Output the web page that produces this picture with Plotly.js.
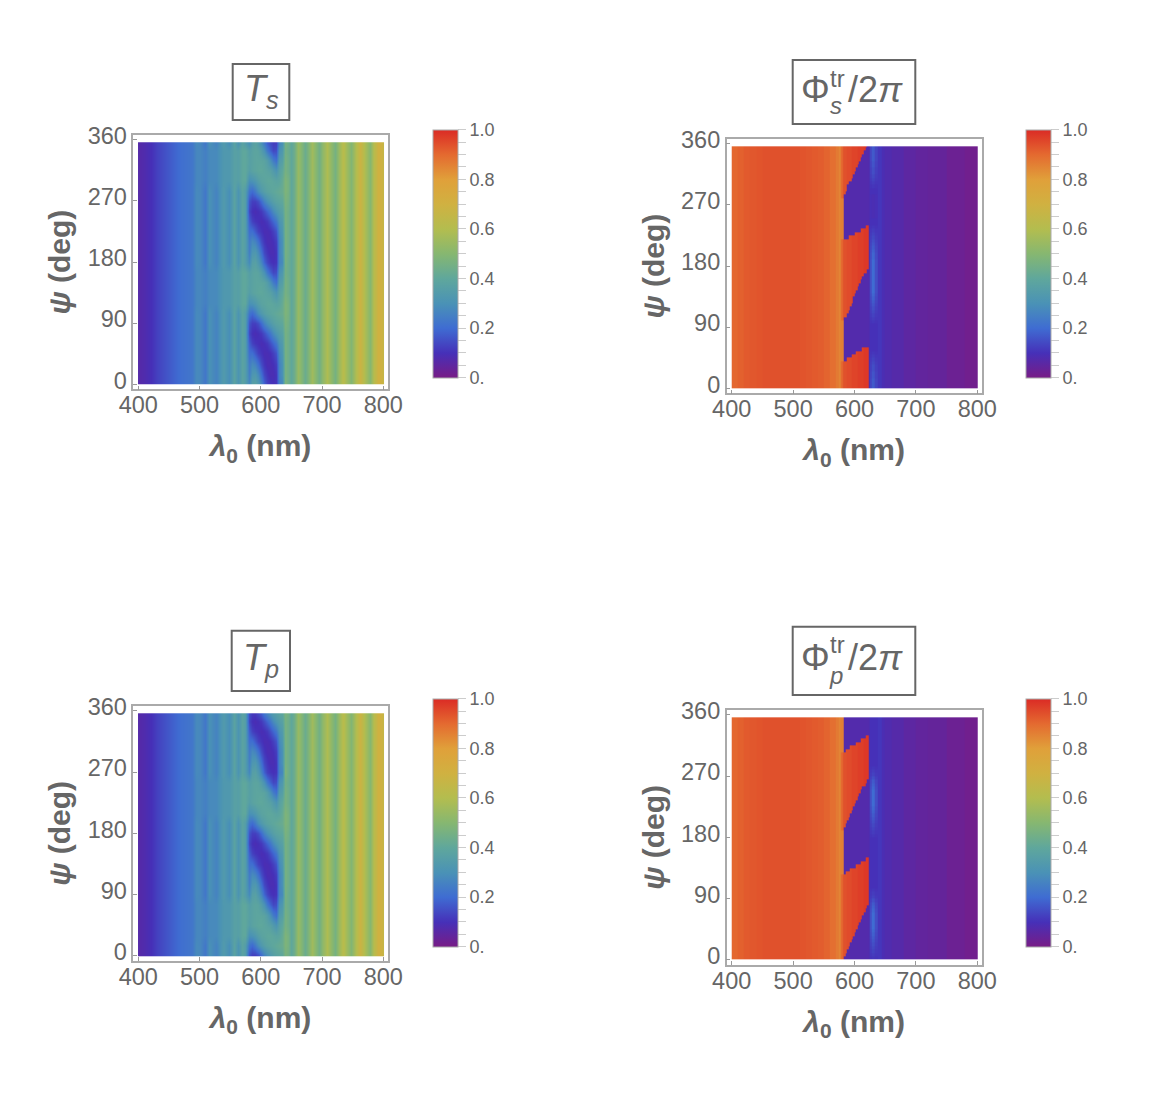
<!DOCTYPE html>
<html lang="en">
<head>
    <meta charset="UTF-8">
    <title>Transmission maps</title>
    <script src="https://cdn.plot.ly/plotly-3.0.1.min.js"></script>
    <style>
        body { margin: 0; background: white; }
    </style>
</head>

<body>
<div id="plot"></div>

<script>

    const rainbow = [
        [0, '#781c86'], [0.1, '#4630b8'], [0.2, '#3f6cd2'], [0.3, '#4a92b6'], [0.4, '#5fa79c'],
        [0.5, '#86b771'], [0.6, '#b3bd4f'], [0.7, '#d0b141'], [0.8, '#e0a03a'], [0.9, '#e46a30'], [1, '#db2b25']
    ]

    const xTicks = [400, 500, 600, 700, 800]
    const yTicks = [0, 90, 180, 270, 360]
    const barTicks = [0, 0.05, 0.1, 0.15, 0.2, 0.25, 0.3, 0.35, 0.4, 0.45, 0.5, 0.55, 0.6, 0.65, 0.7, 0.75, 0.8, 0.85, 0.9, 0.95, 1]
    const barLabels = ['0.', '', '', '', '0.2', '', '', '', '0.4', '', '', '', '0.6', '', '', '', '0.8', '', '', '', '1.0']

    // transmission panels: wavelength columns
    // 401 and 799 repeat the end values, smoothing would otherwise run half a cell past 400 and 800
    const leftLambda = [400, 401, 410, 420, 430, 440, 450, 460, 470, 480, 488, 494, 500, 509, 516, 527, 538, 548, 556, 563, 570, 575]
    const leftSharp = [0.07, 0.07, 0.08, 0.10, 0.13, 0.15, 0.17, 0.19, 0.21, 0.22, 0.23, 0.28, 0.27, 0.23, 0.30, 0.26, 0.34, 0.29, 0.38, 0.31, 0.38, 0.35]
    const leftSoft = [0.07, 0.07, 0.08, 0.10, 0.13, 0.15, 0.17, 0.19, 0.21, 0.22, 0.23, 0.27, 0.27, 0.25, 0.28, 0.28, 0.33, 0.33, 0.37, 0.36, 0.40, 0.40]
    const windowLambda = [580, 585, 590, 595, 600, 605, 610, 615, 620, 625, 630, 635, 640, 645]
    const rightLambda = [650, 655, 661, 667, 672, 678, 683, 689, 695, 702, 708, 714, 721, 727, 734, 741, 748, 755, 762, 770, 778, 785, 791, 796, 799, 800]
    const rightStripes = [0.40, 0.44, 0.54, 0.48, 0.43, 0.50, 0.56, 0.51, 0.45, 0.53, 0.59, 0.52, 0.46, 0.55, 0.62, 0.55, 0.49, 0.60, 0.68, 0.58, 0.50, 0.62, 0.70, 0.69, 0.66, 0.66]

    const tPsi = [0, 15, 30, 45, 60, 75, 90, 105, 120, 135, 150, 165, 180, 195, 210, 225, 240, 255, 270, 285, 300, 315, 330, 345, 356]

    // 0 = sharp stripes left of 575 nm, 1 = washed out stripes
    const tsLeftPick = [0, 0, 0, 0, 0, 0, 0, 0, 1, 1, 1, 1, 0, 0, 0, 0, 0, 0, 0, 0, 1, 1, 1, 1, 0]
    const tpLeftPick = [0, 0, 1, 1, 1, 1, 0, 0, 0, 0, 0, 0, 0, 0, 1, 1, 1, 1, 0, 0, 0, 0, 0, 0, 0]

    const tsWindow = [
        [0.27, 0.36, 0.37, 0.33, 0.26, 0.18, 0.13, 0.11, 0.10, 0.11, 0.25, 0.27, 0.48, 0.44],
        [0.25, 0.32, 0.33, 0.28, 0.21, 0.14, 0.11, 0.09, 0.09, 0.11, 0.26, 0.30, 0.46, 0.44],
        [0.24, 0.28, 0.26, 0.21, 0.15, 0.11, 0.09, 0.09, 0.10, 0.125, 0.26, 0.30, 0.46, 0.44],
        [0.21, 0.21, 0.17, 0.13, 0.11, 0.09, 0.09, 0.10, 0.125, 0.16, 0.28, 0.32, 0.46, 0.44],
        [0.18, 0.13, 0.11, 0.10, 0.09, 0.10, 0.115, 0.15, 0.19, 0.23, 0.31, 0.34, 0.46, 0.44],
        [0.14, 0.10, 0.09, 0.10, 0.115, 0.15, 0.19, 0.23, 0.28, 0.32, 0.35, 0.37, 0.46, 0.44],
        [0.16, 0.125, 0.125, 0.15, 0.20, 0.26, 0.30, 0.33, 0.36, 0.38, 0.39, 0.40, 0.47, 0.45],
        [0.22, 0.20, 0.24, 0.29, 0.33, 0.36, 0.38, 0.39, 0.40, 0.41, 0.42, 0.43, 0.48, 0.46],
        [0.30, 0.31, 0.33, 0.36, 0.38, 0.39, 0.40, 0.40, 0.39, 0.38, 0.39, 0.42, 0.48, 0.46],
        [0.36, 0.38, 0.39, 0.40, 0.40, 0.39, 0.38, 0.37, 0.34, 0.31, 0.37, 0.40, 0.46, 0.44],
        [0.37, 0.38, 0.39, 0.39, 0.39, 0.38, 0.35, 0.30, 0.24, 0.21, 0.34, 0.36, 0.46, 0.44],
        [0.36, 0.38, 0.39, 0.38, 0.35, 0.30, 0.23, 0.18, 0.14, 0.15, 0.30, 0.33, 0.45, 0.43],
        [0.28, 0.36, 0.37, 0.33, 0.27, 0.19, 0.14, 0.11, 0.10, 0.11, 0.26, 0.28, 0.46, 0.43],
        [0.25, 0.32, 0.33, 0.28, 0.21, 0.14, 0.11, 0.09, 0.09, 0.11, 0.26, 0.30, 0.46, 0.44],
        [0.24, 0.28, 0.26, 0.21, 0.15, 0.11, 0.09, 0.09, 0.10, 0.125, 0.26, 0.30, 0.46, 0.44],
        [0.21, 0.21, 0.17, 0.13, 0.11, 0.09, 0.09, 0.10, 0.125, 0.16, 0.28, 0.32, 0.46, 0.44],
        [0.18, 0.13, 0.11, 0.10, 0.09, 0.10, 0.115, 0.15, 0.19, 0.23, 0.31, 0.34, 0.46, 0.44],
        [0.14, 0.10, 0.09, 0.10, 0.115, 0.15, 0.19, 0.23, 0.28, 0.32, 0.35, 0.37, 0.46, 0.44],
        [0.16, 0.125, 0.125, 0.15, 0.20, 0.26, 0.30, 0.33, 0.36, 0.38, 0.39, 0.40, 0.47, 0.45],
        [0.22, 0.20, 0.24, 0.29, 0.33, 0.36, 0.38, 0.39, 0.40, 0.41, 0.42, 0.43, 0.48, 0.46],
        [0.30, 0.31, 0.33, 0.36, 0.38, 0.39, 0.40, 0.40, 0.39, 0.38, 0.39, 0.42, 0.48, 0.46],
        [0.36, 0.38, 0.39, 0.40, 0.40, 0.39, 0.38, 0.37, 0.34, 0.31, 0.37, 0.40, 0.46, 0.44],
        [0.37, 0.38, 0.39, 0.39, 0.39, 0.38, 0.35, 0.30, 0.24, 0.21, 0.34, 0.36, 0.46, 0.44],
        [0.36, 0.38, 0.39, 0.38, 0.35, 0.30, 0.23, 0.18, 0.14, 0.15, 0.30, 0.33, 0.45, 0.43],
        [0.30, 0.36, 0.38, 0.35, 0.30, 0.24, 0.18, 0.15, 0.125, 0.13, 0.27, 0.30, 0.46, 0.44]
    ]

    const tpWindow = [
        [0.16, 0.125, 0.125, 0.15, 0.20, 0.26, 0.30, 0.33, 0.36, 0.38, 0.39, 0.40, 0.47, 0.45],
        [0.22, 0.20, 0.24, 0.29, 0.33, 0.36, 0.38, 0.39, 0.40, 0.41, 0.42, 0.43, 0.48, 0.46],
        [0.30, 0.31, 0.33, 0.36, 0.38, 0.39, 0.40, 0.40, 0.39, 0.38, 0.39, 0.42, 0.48, 0.46],
        [0.36, 0.38, 0.39, 0.40, 0.40, 0.39, 0.38, 0.37, 0.34, 0.31, 0.37, 0.40, 0.46, 0.44],
        [0.37, 0.38, 0.39, 0.39, 0.39, 0.38, 0.35, 0.30, 0.24, 0.21, 0.34, 0.36, 0.46, 0.44],
        [0.36, 0.38, 0.39, 0.38, 0.35, 0.30, 0.23, 0.18, 0.14, 0.15, 0.30, 0.33, 0.45, 0.43],
        [0.28, 0.36, 0.37, 0.33, 0.27, 0.19, 0.14, 0.11, 0.10, 0.11, 0.26, 0.28, 0.46, 0.43],
        [0.25, 0.32, 0.33, 0.28, 0.21, 0.14, 0.11, 0.09, 0.09, 0.11, 0.26, 0.30, 0.46, 0.44],
        [0.24, 0.28, 0.26, 0.21, 0.15, 0.11, 0.09, 0.09, 0.10, 0.125, 0.26, 0.30, 0.46, 0.44],
        [0.21, 0.21, 0.17, 0.13, 0.11, 0.09, 0.09, 0.10, 0.125, 0.16, 0.28, 0.32, 0.46, 0.44],
        [0.18, 0.13, 0.11, 0.10, 0.09, 0.10, 0.115, 0.15, 0.19, 0.23, 0.31, 0.34, 0.46, 0.44],
        [0.14, 0.10, 0.09, 0.10, 0.115, 0.15, 0.19, 0.23, 0.28, 0.32, 0.35, 0.37, 0.46, 0.44],
        [0.16, 0.125, 0.125, 0.15, 0.20, 0.26, 0.30, 0.33, 0.36, 0.38, 0.39, 0.40, 0.47, 0.45],
        [0.22, 0.20, 0.24, 0.29, 0.33, 0.36, 0.38, 0.39, 0.40, 0.41, 0.42, 0.43, 0.48, 0.46],
        [0.30, 0.31, 0.33, 0.36, 0.38, 0.39, 0.40, 0.40, 0.39, 0.38, 0.39, 0.42, 0.48, 0.46],
        [0.36, 0.38, 0.39, 0.40, 0.40, 0.39, 0.38, 0.37, 0.34, 0.31, 0.37, 0.40, 0.46, 0.44],
        [0.37, 0.38, 0.39, 0.39, 0.39, 0.38, 0.35, 0.30, 0.24, 0.21, 0.34, 0.36, 0.46, 0.44],
        [0.36, 0.38, 0.39, 0.38, 0.35, 0.30, 0.23, 0.18, 0.14, 0.15, 0.30, 0.33, 0.45, 0.43],
        [0.27, 0.36, 0.37, 0.33, 0.26, 0.18, 0.13, 0.11, 0.10, 0.11, 0.25, 0.27, 0.48, 0.44],
        [0.25, 0.32, 0.33, 0.28, 0.21, 0.14, 0.11, 0.09, 0.09, 0.11, 0.26, 0.30, 0.46, 0.44],
        [0.24, 0.28, 0.26, 0.21, 0.15, 0.11, 0.09, 0.09, 0.10, 0.125, 0.26, 0.30, 0.46, 0.44],
        [0.21, 0.21, 0.17, 0.13, 0.11, 0.09, 0.09, 0.10, 0.125, 0.16, 0.28, 0.32, 0.46, 0.44],
        [0.18, 0.13, 0.11, 0.10, 0.09, 0.10, 0.115, 0.15, 0.19, 0.23, 0.31, 0.34, 0.46, 0.44],
        [0.14, 0.10, 0.09, 0.10, 0.115, 0.15, 0.19, 0.23, 0.28, 0.32, 0.35, 0.37, 0.46, 0.44],
        [0.15, 0.115, 0.115, 0.14, 0.17, 0.22, 0.26, 0.30, 0.34, 0.36, 0.38, 0.39, 0.47, 0.45]
    ]

    // phase panels: column edges (nm) and row edges (deg), one more edge than cells
    const phiLambda = [400, 410, 420, 430, 440, 450, 460, 470, 480, 490, 500, 510, 520, 530, 540, 550, 560, 570, 575, 577.5, 580,
        582.5, 585, 587.5, 590, 592.5, 595, 597.5, 600, 602.5, 605, 607.5, 610, 612.5, 615, 617.5, 620, 622.5, 625,
        627.5, 632.5, 637.5, 645, 650, 660, 680, 700, 720, 750, 780, 800]
    const phiBase = [0.905, 0.915, 0.925, 0.93, 0.935, 0.94, 0.94, 0.94, 0.94, 0.94, 0.94, 0.935, 0.93, 0.925, 0.92, 0.91, 0.89, 0.87, 0.85, 0.86, 0.86,
        0.075, 0.075, 0.075, 0.075, 0.075, 0.075, 0.075, 0.075, 0.075, 0.075, 0.075, 0.075, 0.075, 0.075, 0.075, 0.075, 0.08, 0.10,
        0.12, 0.12, 0.11, 0.09, 0.08, 0.07, 0.055, 0.045, 0.04, 0.025, 0.015]
    const patchLambda = [577.5, 580, 582.5, 585, 587.5, 590, 592.5, 595, 597.5, 600, 602.5, 605, 607.5, 610, 612.5, 615, 617.5, 620, 622.5]
    const patchValues = [0.90, 0.93, 0.94, 0.94, 0.95, 0.95, 0.95, 0.96, 0.96, 0.96, 0.96, 0.97, 0.97, 0.97, 0.97, 0.98, 0.98, 0.98, 0.98]
    const phiPsi = [0, 5, 10, 15, 20, 25, 30, 35, 40, 45, 50, 55, 60, 65, 70, 75, 80, 85, 90, 95, 100, 105, 110, 115, 120, 125, 130, 135, 140, 145, 150, 155, 160, 165, 170, 175,
        180, 185, 190, 195, 200, 205, 210, 215, 220, 225, 230, 235, 240, 245, 250, 255, 260, 265, 270, 275, 280, 285, 290, 295, 300, 305, 310, 315, 320, 325, 330, 335, 340, 345, 350, 355, 356.4]

    const phisLow = [577.5, 577.5, 577.5, 577.5, 577.5, 577.5, 577.5, 577.5, 587.5, 595, 602.5, 612.5, 0, 0, 0, 0, 0, 0, 0, 0,
        577.5, 577.5, 577.5, 577.5, 577.5, 577.5, 577.5, 577.5, 577.5, 577.5, 577.5, 577.5, 577.5, 577.5, 577.5, 577.5, 577.5, 577.5, 577.5, 577.5, 577.5, 577.5, 577.5, 577.5,
        590, 600, 610, 617.5, 0, 0, 0, 0, 0, 0, 0, 0,
        577.5, 577.5, 577.5, 577.5, 577.5, 577.5, 577.5, 577.5, 577.5, 577.5, 577.5, 577.5, 577.5, 577.5, 577.5, 577.5]
    const phisHigh = [622, 622, 622, 622, 622, 622, 622, 622, 622, 622, 622, 622, 0, 0, 0, 0, 0, 0, 0, 0,
        582.5, 587.5, 590, 592.5, 595, 597.5, 597.5, 600, 602.5, 605, 607.5, 610, 612.5, 615, 620,
        622, 622, 622, 622, 622, 622, 622, 622, 622, 622, 622, 622, 622, 0, 0, 0, 0, 0, 0, 0, 0,
        582.5, 585, 587.5, 587.5, 590, 595, 597.5, 600, 602.5, 605, 607.5, 610, 612.5, 615, 617.5, 620]
    const phisStripe = [0.17, 0.17, 0.17, 0.16, 0.16, 0.15, 0.15, 0.14, 0.13, 0.12, 0.11, 0.10, 0.10, 0.10, 0.10, 0.10, 0.10, 0.10, 0.10, 0.11,
        0.12, 0.13, 0.14, 0.15, 0.16, 0.17, 0.18, 0.19, 0.20, 0.20, 0.20, 0.20, 0.20, 0.20, 0.20, 0.20, 0.20, 0.20, 0.19, 0.19, 0.18,
        0.17, 0.16, 0.15, 0.14, 0.13, 0.12, 0.11, 0.10, 0.10, 0.09, 0.09, 0.09, 0.09, 0.09, 0.09, 0.09, 0.10, 0.10, 0.11,
        0.12, 0.13, 0.14, 0.15, 0.15, 0.16, 0.16, 0.17, 0.17, 0.17, 0.17, 0.17]
    const phisOuter = [0.135, 0.135, 0.135, 0.13, 0.13, 0.125, 0.125, 0.12, 0.115, 0.11, 0.105, 0.10, 0.10, 0.10, 0.10, 0.10, 0.10, 0.10, 0.10, 0.105,
        0.11, 0.115, 0.12, 0.125, 0.13, 0.135, 0.14, 0.145, 0.15, 0.15, 0.15, 0.15, 0.15, 0.15, 0.15, 0.15, 0.15, 0.15, 0.145, 0.145, 0.14,
        0.135, 0.13, 0.125, 0.12, 0.115, 0.11, 0.105, 0.10, 0.10, 0.095, 0.095, 0.095, 0.095, 0.095, 0.095, 0.095, 0.10, 0.10, 0.105,
        0.11, 0.115, 0.12, 0.125, 0.125, 0.13, 0.13, 0.135, 0.135, 0.135, 0.135, 0.135]

    const phipLow = [577.5, 577.5, 577.5, 577.5, 577.5, 577.5, 577.5, 577.5, 577.5, 577.5, 577.5, 577.5, 577.5, 577.5, 577.5, 577.5,
        577.5, 577.5, 577.5, 577.5, 577.5, 577.5, 577.5, 577.5, 577.5, 585, 592.5, 602.5, 610, 617.5, 0, 0, 0, 0, 0, 0, 0, 0,
        577.5, 577.5, 577.5, 577.5, 577.5, 577.5, 577.5, 577.5, 577.5, 577.5, 577.5, 577.5, 577.5, 577.5, 577.5, 577.5, 577.5, 577.5, 577.5, 577.5, 577.5, 577.5, 577.5,
        585, 592.5, 602.5, 610, 617.5, 0, 0, 0, 0, 0, 0]
    const phipHigh = [582.5, 585, 587.5, 590, 592.5, 595, 597.5, 600, 602.5, 605, 607.5, 610, 612.5, 615, 617.5, 620,
        622, 622, 622, 622, 622, 622, 622, 622, 622, 622, 622, 622, 622, 622, 0, 0, 0, 0, 0, 0, 0, 0,
        582.5, 585, 587.5, 590, 592.5, 595, 597.5, 600, 602.5, 605, 607.5, 610, 612.5, 617.5, 620,
        622, 622, 622, 622, 622, 622, 622, 622, 622, 622, 622, 622, 622, 0, 0, 0, 0, 0, 0]
    const phipStripe = [0.11, 0.12, 0.13, 0.14, 0.15, 0.16, 0.17, 0.18, 0.19, 0.20, 0.20, 0.20, 0.20, 0.20, 0.19, 0.18, 0.17, 0.15, 0.13, 0.12,
        0.11, 0.10, 0.10, 0.10, 0.10, 0.10, 0.10, 0.10, 0.10, 0.10, 0.10, 0.10, 0.10, 0.10, 0.10, 0.10, 0.11, 0.12, 0.13, 0.14, 0.15,
        0.16, 0.17, 0.18, 0.19, 0.20, 0.20, 0.20, 0.20, 0.20, 0.19, 0.18, 0.17, 0.15, 0.13, 0.12, 0.11, 0.10, 0.10, 0.10,
        0.10, 0.10, 0.10, 0.10, 0.10, 0.10, 0.10, 0.10, 0.10, 0.10, 0.10, 0.10]
    const phipOuter = [0.105, 0.11, 0.115, 0.12, 0.125, 0.13, 0.135, 0.14, 0.145, 0.15, 0.15, 0.15, 0.15, 0.15, 0.145, 0.14, 0.135, 0.125, 0.115, 0.11,
        0.105, 0.10, 0.10, 0.10, 0.10, 0.10, 0.10, 0.10, 0.10, 0.10, 0.10, 0.10, 0.10, 0.10, 0.10, 0.10, 0.105, 0.11, 0.115, 0.12, 0.125,
        0.13, 0.135, 0.14, 0.145, 0.15, 0.15, 0.15, 0.15, 0.15, 0.145, 0.14, 0.135, 0.125, 0.115, 0.11, 0.105, 0.10, 0.10, 0.10,
        0.10, 0.10, 0.10, 0.10, 0.10, 0.10, 0.10, 0.10, 0.10, 0.10, 0.10, 0.10]

    const grey = '#666666'
    const fontName = '"Liberation Sans", Arial, sans-serif'

    const tLambda = [...leftLambda, ...windowLambda, ...rightLambda]
    // same trick as 401 and 799, for the rows at both ends
    const tPsiEdged = [0, 1, ...tPsi.slice(1, -1), 355, 356]

    function tRows(pick, windowRows) {
        const rows = tPsi.map((p, i) => [...(pick[i] ? leftSoft : leftSharp), ...windowRows[i], ...rightStripes])
        return [rows[0], ...rows.slice(0, -1), rows[rows.length - 1], rows[rows.length - 1]].slice(0, tPsiEdged.length)
    }

    function phiRows(low, high, stripe, outer) {
        return phiPsi.slice(0, -1).map((p, i) => phiLambda.slice(0, -1).map((l, j) => {
            if (l === 627.5) return stripe[i]
            if (l === 632.5) return outer[i]
            if (l >= low[i] && l < high[i]) return patchValues[patchLambda.indexOf(l)]
            if (l === 625) return outer[i]
            return phiBase[j]
        }))
    }

    // pixel frame of each panel, from the picture
    const panels = [
        { left: 133.3, right: 387.7, top: 135, bottom: 389.3, barX: 433, barTop: 129.3, barBottom: 377.7 },
        { left: 726.7, right: 981.7, top: 139, bottom: 393.3, barX: 1026, barTop: 129.3, barBottom: 377.7 },
        { left: 133.3, right: 387.7, top: 706, bottom: 960.7, barX: 433, barTop: 699, barBottom: 946.7 },
        { left: 726.7, right: 981.7, top: 710, bottom: 964.7, barX: 1026, barTop: 699, barBottom: 946.7 }
    ]
    const W = 1152
    const H = 1112

    const fields = [
        { x: tLambda, y: tPsiEdged, z: tRows(tsLeftPick, tsWindow), zsmooth: 'best' },
        { x: phiLambda, y: phiPsi, z: phiRows(phisLow, phisHigh, phisStripe, phisOuter), zsmooth: false },
        { x: tLambda, y: tPsiEdged, z: tRows(tpLeftPick, tpWindow), zsmooth: 'best' },
        { x: phiLambda, y: phiPsi, z: phiRows(phipLow, phipHigh, phipStripe, phipOuter), zsmooth: false }
    ]

    const data = fields.map((f, i) => {
        const p = panels[i]
        const n = i === 0 ? '' : String(i + 1)
        return {
            type: 'heatmap',
            x: f.x,
            y: f.y,
            z: f.z,
            zsmooth: f.zsmooth,
            zmin: 0,
            zmax: 1,
            xaxis: 'x' + n,
            yaxis: 'y' + n,
            colorscale: rainbow,
            hoverinfo: 'skip',
            colorbar: {
                x: p.barX / W,
                xanchor: 'left',
                xpad: 0,
                ypad: 0,
                y: 1 - p.barBottom / H,
                yanchor: 'bottom',
                thickness: 25,
                thicknessmode: 'pixels',
                len: p.barBottom - p.barTop,
                lenmode: 'pixels',
                tickmode: 'array',
                tickvals: barTicks,
                ticktext: barLabels,
                ticks: 'outside',
                ticklen: 8,
                tickwidth: 1,
                tickcolor: '#cccccc',
                tickfont: { family: fontName, size: 18, color: grey },
                outlinecolor: '#aaaaaa',
                outlinewidth: 1
            }
        }
    })

    const layout = {
        width: W,
        height: H,
        margin: { l: 0, r: 0, t: 0, b: 0 },
        paper_bgcolor: 'white',
        plot_bgcolor: 'white',
        showlegend: false,
        shapes: [],
        annotations: []
    }

    panels.forEach((p, i) => {
        const n = i === 0 ? '' : String(i + 1)
        layout['xaxis' + n] = {
            domain: [p.left / W, p.right / W],
            anchor: 'y' + n,
            range: [391.8, 807.2],
            tickmode: 'array',
            tickvals: xTicks,
            ticks: 'inside',
            ticklen: 4,
            tickcolor: '#999999',
            ticklabelstandoff: -6,
            showline: true,
            linecolor: '#aaaaaa',
            linewidth: 1.5,
            mirror: true,
            showgrid: false,
            zeroline: false,
            tickfont: { family: fontName, size: 23.5, color: grey },
            title: {
                text: '<b><i>λ</i><sub>0</sub> (nm)</b>',
                font: { family: fontName, size: 30, color: grey },
                standoff: 18
            }
        }
        layout['yaxis' + n] = {
            domain: [1 - p.bottom / H, 1 - p.top / H],
            anchor: 'x' + n,
            range: [-7.4, 367.2],
            tickmode: 'array',
            tickvals: yTicks,
            ticks: 'inside',
            ticklen: 4,
            tickcolor: '#999999',
            ticklabelshift: -4,
            showline: true,
            linecolor: '#aaaaaa',
            linewidth: 1.5,
            mirror: true,
            showgrid: false,
            zeroline: false,
            tickfont: { family: fontName, size: 23.5, color: grey },
            title: {
                text: '<b><i>ψ</i> (deg)</b>',
                font: { family: fontName, size: 30, color: grey },
                standoff: 8
            }
        }
    })

    // boxed panel titles
    const boxes = [[232.7, 289.3, 64, 120], [792.7, 915.3, 60, 124], [231.7, 290, 630.7, 691], [792.7, 915.3, 626.7, 695]]
    boxes.forEach(b => {
        layout.shapes.push({
            type: 'rect', xref: 'paper', yref: 'paper',
            x0: b[0] / W, x1: b[1] / W, y0: 1 - b[3] / H, y1: 1 - b[2] / H,
            line: { color: grey, width: 2 }
        })
    })

    function label(text, x, y, size) {
        layout.annotations.push({
            text: text, xref: 'paper', yref: 'paper', x: x / W, y: 1 - y / H,
            showarrow: false, xanchor: 'center', yanchor: 'middle',
            font: { family: fontName, size: size, color: grey }
        })
    }
    label('<i>T<sub>s</sub></i>', 261, 91, 36)
    label('<i>T<sub>p</sub></i>', 261, 660, 36)
    label('Φ', 815, 90, 36)
    label('tr', 837, 78, 24)
    label('<i>s</i>', 836, 106, 24)
    label('/2<i>π</i>', 875, 90, 36)
    label('Φ', 815, 657, 36)
    label('tr', 837, 645, 24)
    label('<i>p</i>', 836, 675, 24)
    label('/2<i>π</i>', 875, 657, 36)

    Plotly.newPlot('plot', data, layout, { displayModeBar: false })

</script>

</body>
</html>
